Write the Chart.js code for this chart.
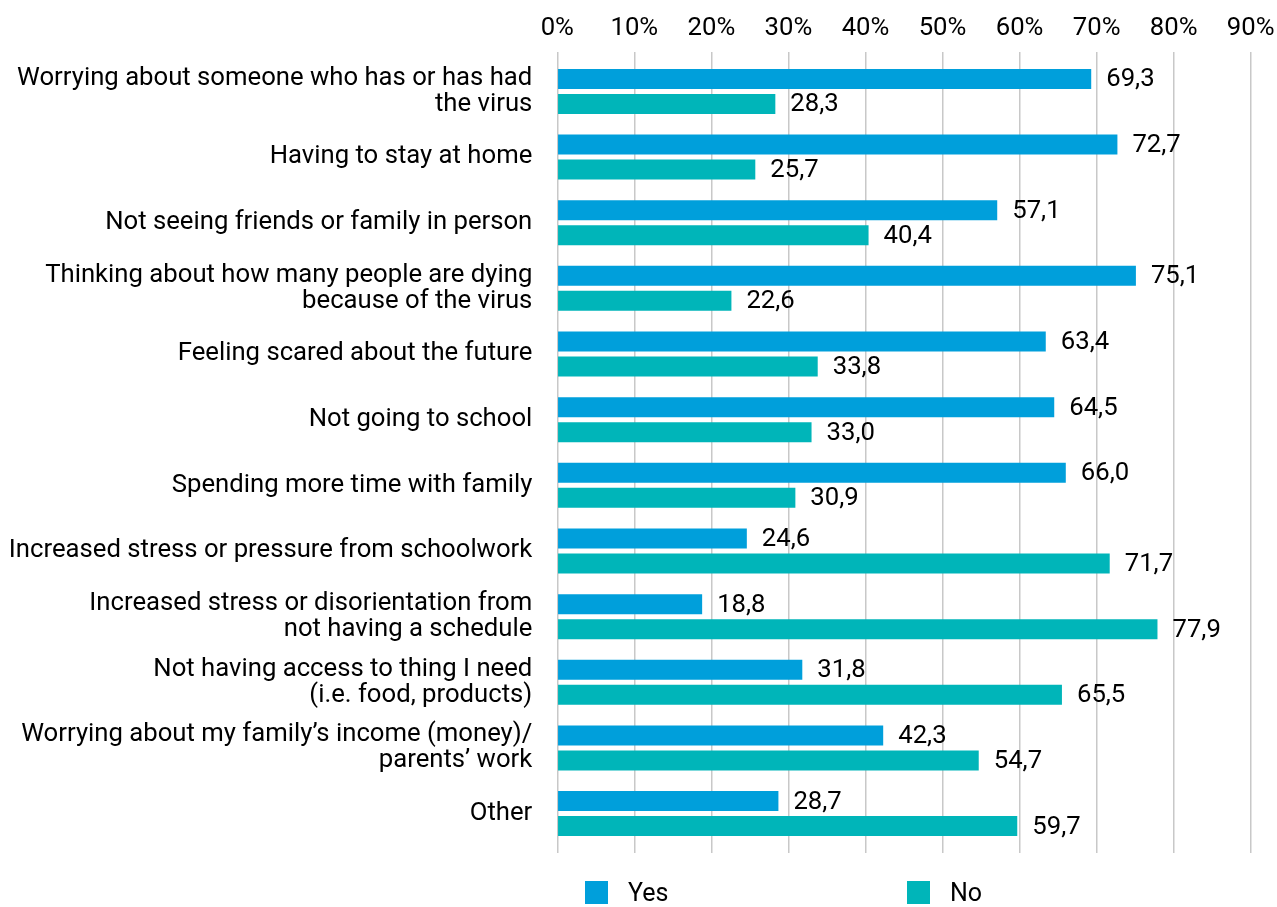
<!DOCTYPE html>
<html>
<head>
<meta charset="utf-8">
<script src="https://cdn.jsdelivr.net/npm/chart.js@4"></script>
<style>
  html, body { margin: 0; padding: 0; background: #ffffff; }
  #wrap { position: relative; width: 1277px; height: 907px; overflow: hidden; }
  #legend {
    position: absolute; left: 585px; top: 881px;
    display: flex; font-family: Roboto, "Noto Sans", sans-serif; font-size: 25px; color: #000;
  }
  #legend .item { display: flex; align-items: center; width: 322px; height: 23px; }
  #legend .box { width: 23px; height: 23px; margin-right: 20px; flex: none; }
</style>
</head>
<body>
<div id="wrap">
  <canvas id="chart" width="1277" height="907"></canvas>
  <div id="legend"></div>
</div>
<script>
// Survey answers: share of respondents (%) answering Yes / No for each item
const categories = [
  ["Worrying about someone who has or has had", "the virus"],
  "Having to stay at home",
  "Not seeing friends or family in person",
  ["Thinking about how many people are dying", "because of the virus"],
  "Feeling scared about the future",
  "Not going to school",
  "Spending more time with family",
  "Increased stress or pressure from schoolwork",
  ["Increased stress or disorientation from", "not having a schedule"],
  ["Not having access to thing I need", "(i.e. food, products)"],
  ["Worrying about my family\u2019s income (money)/", "parents\u2019 work"],
  "Other"
];
const yesValues = [69.3, 72.7, 57.1, 75.1, 63.4, 64.5, 66.0, 24.6, 18.8, 31.8, 42.3, 28.7];
const noValues  = [28.3, 25.7, 40.4, 22.6, 33.8, 33.0, 30.9, 71.7, 77.9, 65.5, 54.7, 59.7];
const xTickLabels = ["0%", "10%", "20%", "30%", "40%", "50%", "60%", "70%", "80%", "90%"];
const seriesNames = ["Yes", "No"];
const seriesColors = ["#009fdb", "#00b5b9"];

const FAMILY = "Roboto, 'Noto Sans', sans-serif";
const SIZE = 25.7;

// Writes each bar's value (decimal comma) just past the end of the bar
const valueLabels = {
  id: "valueLabels",
  afterDatasetsDraw(chart) {
    const ctx = chart.ctx;
    ctx.save();
    ctx.font = `${SIZE}px ${FAMILY}`;
    ctx.fillStyle = "#000";
    ctx.textAlign = "left";
    ctx.textBaseline = "middle";
    chart.data.datasets.forEach((ds, di) => {
      const meta = chart.getDatasetMeta(di);
      meta.data.forEach((bar, i) => {
        const v = ds.data[i].x;
        ctx.fillText(v.toFixed(1).replace(".", ","), bar.x + 15, bar.y + 1);
      });
    });
    ctx.restore();
  }
};

const toPoints = vals => vals.map((v, i) => ({ x: v, y: i }));

const chart = new Chart(document.getElementById("chart"), {
  type: "bar",
  data: {
    datasets: [
      { label: seriesNames[0], data: toPoints(yesValues), backgroundColor: seriesColors[0],
        barPercentage: 0.8, categoryPercentage: 0.762 },
      { label: seriesNames[1], data: toPoints(noValues), backgroundColor: seriesColors[1],
        barPercentage: 0.8, categoryPercentage: 0.762 }
    ]
  },
  options: {
    indexAxis: "y",
    responsive: false,
    devicePixelRatio: 1,
    animation: false,
    layout: { padding: { top: 0, right: 26.3, bottom: 54, left: 0 } },
    plugins: { legend: { display: false }, tooltip: { enabled: false } },
    scales: {
      x: {
        type: "linear",
        position: "top",
        min: 0,
        max: 90,
        grid: { color: "#c8c8c8", lineWidth: 1.5, drawTicks: false },
        border: { display: false },
        afterFit: scale => {
          scale.height = 52;
          scale.paddingLeft = 0;
          scale.paddingRight = 0;
        },
        ticks: {
          stepSize: 10,
          padding: 8,
          color: "#000",
          font: { family: FAMILY, size: SIZE, lineHeight: 1.2 },
          callback: (v, i) => xTickLabels[i]
        }
      },
      y: {
        type: "linear",
        reverse: true,
        offset: false,
        min: -0.6,
        max: 11.6,
        grid: { display: false, offset: false },
        border: { display: false },
        afterFit: scale => {
          scale.width = 557.3;
          scale.paddingTop = 0;
          scale.paddingBottom = 0;
        },
        ticks: {
          stepSize: 1,
          includeBounds: false,
          autoSkip: false,
          padding: 17,
          color: "#000",
          font: { family: FAMILY, size: SIZE, lineHeight: 1.02 },
          callback: v => (Number.isInteger(v) && categories[v] !== undefined ? categories[v] : "")
        }
      }
    }
  },
  plugins: [valueLabels]
});

// Legend entries built from the chart's datasets
const legendEl = document.getElementById("legend");
chart.data.datasets.forEach(ds => {
  const item = document.createElement("div");
  item.className = "item";
  const box = document.createElement("span");
  box.className = "box";
  box.style.background = ds.backgroundColor;
  const txt = document.createElement("span");
  txt.textContent = ds.label;
  item.appendChild(box);
  item.appendChild(txt);
  legendEl.appendChild(item);
});
</script>
</body>
</html>
